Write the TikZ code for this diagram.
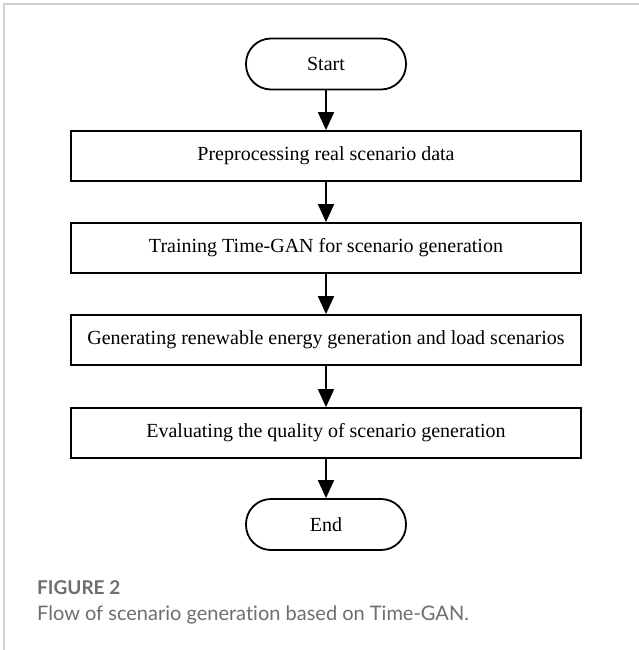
\documentclass[tikz,border=0pt]{standalone}
\usepackage{fontspec}
\setmainfont{Liberation Serif}
\newfontfamily\capfont[Ligatures={NoCommon}]{Lato}
\usetikzlibrary{arrows.meta}
\definecolor{framegray}{HTML}{CFCFCF}
\definecolor{captiongray}{HTML}{6E6E6E}
\begin{document}
\begin{tikzpicture}[x=1pt,y=-1pt,
  stepbox/.style={draw=black,line width=1.8pt,minimum width=510pt,minimum height=50pt,
    inner sep=0pt,font=\fontsize{20}{24}\selectfont},
  termbox/.style={draw=black,line width=1.8pt,rounded corners=25pt,minimum width=160pt,
    minimum height=51pt,inner sep=0pt,font=\fontsize{20}{24}\selectfont},
  flow/.style={line width=1.8pt,-{Triangle[length=18pt,width=16pt]}}]
\useasboundingbox (0,0) rectangle (639,650);
\fill[white] (0,0) rectangle (639,650);
% frame around the figure
\draw[framegray,line width=2pt] (4,650) -- (4,4) -- (639,4);
% flow chart
\node[termbox] (start) at (326,64) {Start};
\node[stepbox] (pre) at (326,156) {Preprocessing real scenario data};
\node[stepbox] (train) at (326,248) {Training Time-GAN for scenario generation};
\node[stepbox] (gen) at (326,340) {Generating renewable energy generation and load scenarios};
\node[stepbox] (eval) at (326,433) {Evaluating the quality of scenario generation};
\node[termbox] (end) at (326,524.5) {End};
\draw[flow] (start) -- (pre);
\draw[flow] (pre) -- (train);
\draw[flow] (train) -- (gen);
\draw[flow] (gen) -- (eval);
\draw[flow] (eval) -- (end);
% caption
\node[anchor=base west,inner sep=0pt,text=captiongray,font=\capfont\bfseries\fontsize{19}{22}\selectfont] (figlabel) at (37,594) {FIGURE 2};
\node[anchor=base west,inner sep=0pt,text=captiongray,font=\capfont\fontsize{20}{24}\selectfont] (figtext) at (37,620) {Flow of scenario generation based on Time-GAN.};
\end{tikzpicture}
\end{document}
